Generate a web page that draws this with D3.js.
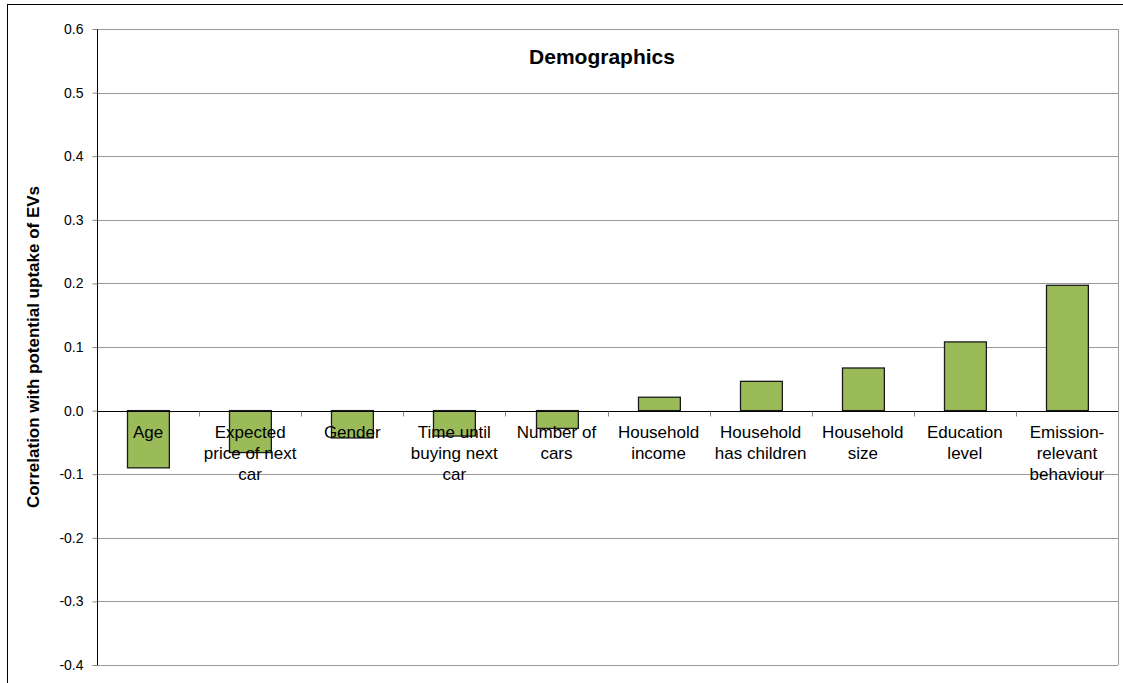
<!DOCTYPE html>
<html>
<head>
<meta charset="utf-8">
<script src="https://cdn.jsdelivr.net/npm/d3@7"></script>
<style>
  html, body { margin: 0; padding: 0; background: #fff; }
  svg { display: block; font-family: "Liberation Sans", Arial, sans-serif; }
</style>
</head>
<body>
<svg id="chart" width="1123" height="683"></svg>
<script>
// Demographic factors and their correlation with potential EV uptake
const categories = [
  "Age",
  "Expected price of next car",
  "Gender",
  "Time until buying next car",
  "Number of cars",
  "Household income",
  "Household has children",
  "Household size",
  "Education level",
  "Emission-relevant behaviour"
];
const categoryLines = [
  ["Age"],
  ["Expected", "price of next", "car"],
  ["Gender"],
  ["Time until", "buying next", "car"],
  ["Number of", "cars"],
  ["Household", "income"],
  ["Household", "has children"],
  ["Household", "size"],
  ["Education", "level"],
  ["Emission-", "relevant", "behaviour"]
];
const correlations = [-0.090, -0.066, -0.043, -0.040, -0.028, 0.021, 0.046, 0.067, 0.108, 0.197];
const yTicks = [-0.4, -0.3, -0.2, -0.1, 0.0, 0.1, 0.2, 0.3, 0.4, 0.5, 0.6];

const svg = d3.select("#chart");
const plot = { left: 97, right: 1118, top: 29, bottom: 665 };

// outer chart frame
svg.append("rect")
  .attr("x", 7.5).attr("y", 4.5)
  .attr("width", 1130).attr("height", 700)
  .attr("fill", "none").attr("stroke", "#000").attr("stroke-width", 1);

const x = d3.scaleBand()
  .domain(categories)
  .range([plot.left, plot.right])
  .paddingInner(0.59).paddingOuter(0.295);

const y = d3.scaleLinear().domain([-0.4, 0.6]).range([plot.bottom, plot.top]);

// gridlines
svg.append("g")
  .selectAll("line")
  .data(yTicks)
  .join("line")
  .attr("x1", plot.left).attr("x2", plot.right)
  .attr("y1", d => Math.round(y(d)) + 0.5).attr("y2", d => Math.round(y(d)) + 0.5)
  .attr("stroke", "#9a9a9a").attr("stroke-width", 1);

// plot area right border
svg.append("line")
  .attr("x1", plot.right + 0.5).attr("x2", plot.right + 0.5)
  .attr("y1", plot.top).attr("y2", plot.bottom)
  .attr("stroke", "#9a9a9a");

// bars
svg.append("g")
  .selectAll("rect")
  .data(correlations)
  .join("rect")
  .attr("x", (d, i) => Math.round(x(categories[i])) + 0.5)
  .attr("width", x.bandwidth())
  .attr("y", d => y(Math.max(0, d)))
  .attr("height", d => Math.abs(y(d) - y(0)))
  .attr("fill", "#9bbb59")
  .attr("stroke", "#1a1a1a")
  .attr("stroke-width", 1.3);

// y axis
const yAxis = d3.axisLeft(y)
  .tickValues(yTicks)
  .tickFormat(d => d.toFixed(1))
  .tickSize(5)
  .tickPadding(9);
const yg = svg.append("g")
  .attr("transform", `translate(${plot.left + 0.5},0)`)
  .call(yAxis);
yg.select(".domain").attr("stroke", "#000").attr("d", `M0,${plot.top}V${plot.bottom}`);
yg.selectAll(".tick line").attr("stroke", "#888");
yg.selectAll(".tick text")
  .attr("font-size", 14)
  .attr("fill", "#000")
  .attr("font-family", "Liberation Sans, Arial, sans-serif");

// zero line with category separators
const zeroY = Math.round(y(0)) + 0.5;
svg.append("line")
  .attr("x1", plot.left).attr("x2", plot.right)
  .attr("y1", zeroY).attr("y2", zeroY)
  .attr("stroke", "#000").attr("stroke-width", 1);
svg.append("g")
  .selectAll("line")
  .data(d3.range(1, categories.length))
  .join("line")
  .attr("x1", i => Math.round(plot.left + i * (plot.right - plot.left) / categories.length) + 0.5)
  .attr("x2", i => Math.round(plot.left + i * (plot.right - plot.left) / categories.length) + 0.5)
  .attr("y1", zeroY).attr("y2", zeroY + 5)
  .attr("stroke", "#888");

// category labels
const lab = svg.append("g")
  .attr("font-size", 17)
  .attr("fill", "#000")
  .attr("text-anchor", "middle");
categoryLines.forEach((lines, i) => {
  const cx = x(categories[i]) + x.bandwidth() / 2;
  const t = lab.append("text").attr("x", cx).attr("y", 438);
  lines.forEach((ln, j) => {
    t.append("tspan").attr("x", cx).attr("dy", j === 0 ? 0 : 21).text(ln);
  });
});

// title
svg.append("text")
  .attr("x", 602).attr("y", 64)
  .attr("text-anchor", "middle")
  .attr("font-size", 21)
  .attr("font-weight", "bold")
  .text("Demographics");

// y axis title
svg.append("text")
  .attr("transform", `translate(39,${(plot.top + plot.bottom) / 2}) rotate(-90)`)
  .attr("text-anchor", "middle")
  .attr("font-size", 17)
  .attr("font-weight", "bold")
  .text("Correlation with potential uptake of EVs");
</script>
</body>
</html>
